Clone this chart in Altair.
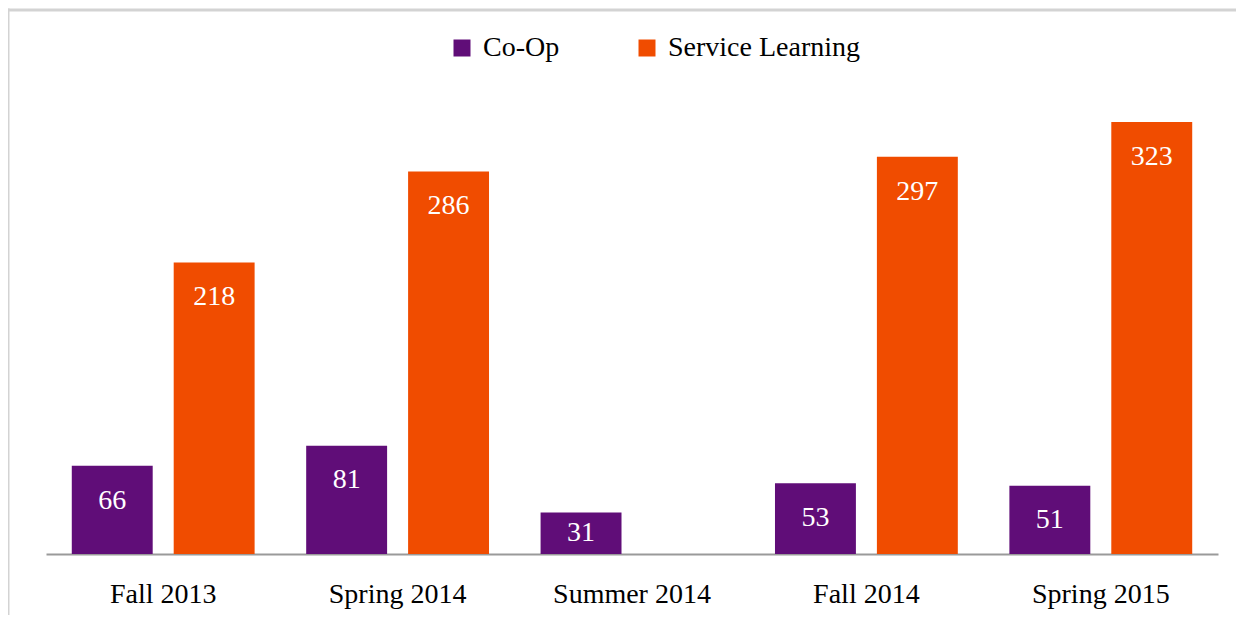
import altair as alt
import pandas as pd

terms = ["Fall 2013", "Spring 2014", "Summer 2014", "Fall 2014", "Spring 2015"]
coop = [66, 81, 31, 53, 51]
service = [218, 286, None, 297, 323]
series_names = ["Co-Op", "Service Learning"]
colors = ["#600D78", "#F04C00"]

rows = []
for t, c, s in zip(terms, coop, service):
    rows.append({"term": t, "series": "Co-Op", "value": c})
    if s is not None:
        rows.append({"term": t, "series": "Service Learning", "value": s})
df = pd.DataFrame(rows)

FONT = "Liberation Serif"

x = alt.X("term:N", sort=terms,
          scale=alt.Scale(paddingInner=0.22, paddingOuter=0.11),
          axis=alt.Axis(title=None, ticks=False, grid=False, labelAngle=0,
                        labelFont=FONT, labelFontSize=28, labelColor="#000000",
                        labelPadding=26, domainColor="#9A9A9A", domainWidth=2))
xo = alt.XOffset("series:N", sort=series_names,
                 scale=alt.Scale(paddingInner=0.206, paddingOuter=0))
y = alt.Y("value:Q", scale=alt.Scale(domain=[0, 350], nice=False), axis=None)

bars = alt.Chart(df).mark_bar().encode(
    x=x, xOffset=xo, y=y,
    color=alt.Color("series:N", sort=series_names,
                    scale=alt.Scale(domain=series_names, range=colors),
                    legend=alt.Legend(title=None, orient="none", direction="horizontal",
                                      legendX=402, legendY=-52,
                                      symbolType="square", symbolSize=289,
                                      symbolStrokeWidth=0, symbolOpacity=1,
                                      labelFont=FONT, labelFontSize=28,
                                      labelColor="#000000", labelOffset=7,
                                      labelLimit=0, columnPadding=73)),
)

labels = alt.Chart(df).transform_calculate(
    labpos="max(datum.value - 26, datum.value / 2)"
).mark_text(font=FONT, fontSize=28, color="white", baseline="middle").encode(
    x=x, xOffset=xo,
    y=alt.Y("labpos:Q", scale=alt.Scale(domain=[0, 350], nice=False), axis=None),
    text=alt.Text("value:Q"),
)

border_data = alt.Data(values=[{"k": 1}])
top_line = alt.Chart(border_data).mark_rule(color="#D3D3D3", strokeWidth=3).encode(
    x=alt.value(-39.5), x2=alt.value(1190), y=alt.value(-76))
left_line = alt.Chart(border_data).mark_rule(color="#D3D3D3", strokeWidth=3).encode(
    x=alt.value(-38), y=alt.value(-77.5), y2=alt.value(540))

chart = alt.layer(bars, labels, top_line, left_line).properties(
    width=1172, height=468,
    autosize=alt.AutoSizeParams(type="none"),
    padding={"left": 38, "top": 78, "right": 18, "bottom": 61},
).configure(background="white").configure_view(stroke=None, strokeWidth=0)

chart.save("out.html", embed_options={"renderer": "svg", "actions": False})
